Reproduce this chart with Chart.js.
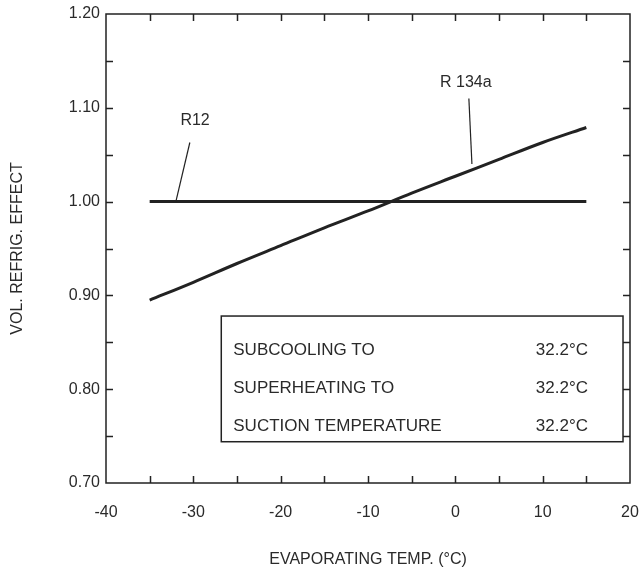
<!DOCTYPE html>
<html>
<head>
<meta charset="utf-8">
<script src="https://cdn.jsdelivr.net/npm/chart.js@4"></script>
<style>
  html, body { margin: 0; padding: 0; background: #fff; }
  #wrap { width: 641px; height: 571px; }
</style>
</head>
<body>
<div id="wrap"><canvas id="chart" width="641" height="571"></canvas></div>
<script>
// evaporating temperature (°C) and relative volumetric refrigerating effect
const evapTemps = [-35, -30, -25, -20, -15, -10, -5, 0, 5, 10, 15];
const r134aEffect = [0.895, 0.914, 0.934, 0.953, 0.972, 0.990, 1.009, 1.027, 1.045, 1.063, 1.079];
const r12Effect = [1.00, 1.00, 1.00, 1.00, 1.00, 1.00, 1.00, 1.00, 1.00, 1.00, 1.00];

// axis ticks
const xLabelTicks = [-40, -30, -20, -10, 0, 10, 20];
const xTickMarks = [-35, -30, -25, -20, -15, -10, -5, 0, 5, 10, 15];
const yLabelTicks = [0.70, 0.80, 0.90, 1.00, 1.10, 1.20];
const yTickMarks = [0.75, 0.80, 0.85, 0.90, 0.95, 1.00, 1.05, 1.10, 1.15];

// operating conditions shown in the box
const conditionNames = ["SUBCOOLING TO", "SUPERHEATING TO", "SUCTION TEMPERATURE"];
const conditionValues = ["32.2°C", "32.2°C", "32.2°C"];

// series labels with their leader lines, in data units
const seriesNotes = [
  { text: "R12",    at: [-29.8, 1.086], from: [-30.4, 1.063], to: [-32.0, 1.000] },
  { text: "R 134a", at: [1.2, 1.127],   from: [1.55, 1.110],  to: [1.9, 1.040] }
];
const conditionBox = { x0: -26.8, x1: 19.2, y0: 0.744, y1: 0.878 };

const INK = "#222";
const FONT = '"Liberation Sans", Arial, Helvetica, sans-serif';
Chart.defaults.font.family = FONT;
Chart.defaults.color = "#2a2a2a";

const frameAndNotes = {
  id: "frameAndNotes",
  afterDraw(chart) {
    const { ctx, chartArea: a, scales: { x, y } } = chart;
    const TICK = 7;
    ctx.save();
    ctx.strokeStyle = INK;
    ctx.lineWidth = 1.5;
    ctx.strokeRect(a.left, a.top, a.right - a.left, a.bottom - a.top);

    // tick marks point into the plot on all four sides
    ctx.beginPath();
    xTickMarks.forEach(v => {
      const px = Math.round(x.getPixelForValue(v)) + 0.5;
      ctx.moveTo(px, a.bottom); ctx.lineTo(px, a.bottom - TICK);
      ctx.moveTo(px, a.top);    ctx.lineTo(px, a.top + TICK);
    });
    yTickMarks.forEach(v => {
      const py = Math.round(y.getPixelForValue(v)) + 0.5;
      ctx.moveTo(a.left, py);  ctx.lineTo(a.left + TICK, py);
      ctx.moveTo(a.right, py); ctx.lineTo(a.right - TICK, py);
    });
    ctx.stroke();

    // curve labels
    ctx.lineWidth = 1.2;
    ctx.fillStyle = "#2a2a2a";
    ctx.font = "16px " + FONT;
    ctx.textAlign = "center";
    ctx.textBaseline = "middle";
    seriesNotes.forEach(n => {
      ctx.fillText(n.text, x.getPixelForValue(n.at[0]), y.getPixelForValue(n.at[1]));
      ctx.beginPath();
      ctx.moveTo(x.getPixelForValue(n.from[0]), y.getPixelForValue(n.from[1]));
      ctx.lineTo(x.getPixelForValue(n.to[0]), y.getPixelForValue(n.to[1]));
      ctx.stroke();
    });

    // conditions box
    const bx0 = x.getPixelForValue(conditionBox.x0);
    const bx1 = x.getPixelForValue(conditionBox.x1);
    const by0 = y.getPixelForValue(conditionBox.y1);
    const by1 = y.getPixelForValue(conditionBox.y0);
    ctx.lineWidth = 1.5;
    ctx.strokeRect(bx0, by0, bx1 - bx0, by1 - by0);
    ctx.font = "17px " + FONT;
    conditionNames.forEach((name, i) => {
      const ty = by0 + 34 + i * 38;
      ctx.textAlign = "left";
      ctx.fillText(name, bx0 + 12, ty);
      ctx.textAlign = "right";
      ctx.fillText(conditionValues[i], bx1 - 35, ty);
    });
    ctx.restore();
  }
};

new Chart(document.getElementById("chart"), {
  type: "line",
  data: {
    labels: evapTemps,
    datasets: [
      {
        label: "R12",
        data: evapTemps.map((t, i) => ({ x: t, y: r12Effect[i] })),
        borderColor: INK,
        borderWidth: 3,
        pointRadius: 0,
        fill: false
      },
      {
        label: "R 134a",
        data: evapTemps.map((t, i) => ({ x: t, y: r134aEffect[i] })),
        borderColor: INK,
        borderWidth: 3,
        pointRadius: 0,
        cubicInterpolationMode: "monotone",
        fill: false
      }
    ]
  },
  options: {
    responsive: false,
    animation: false,
    layout: { padding: { top: 14, right: 11, left: 0, bottom: 0 } },
    plugins: {
      legend: { display: false },
      tooltip: { enabled: false }
    },
    scales: {
      x: {
        type: "linear",
        min: -40,
        max: 20,
        afterBuildTicks: s => { s.ticks = xLabelTicks.map(v => ({ value: v })); },
        afterFit: s => { s.height = 88; s.paddingLeft = 0; s.paddingRight = 0; },
        grid: { display: false, drawTicks: false },
        border: { display: false },
        ticks: {
          padding: 20,
          font: { size: 16 },
          callback: v => String(v)
        },
        title: {
          display: true,
          text: "EVAPORATING TEMP. (°C)",
          font: { size: 16 },
          padding: { top: 0, bottom: 2 }
        }
      },
      y: {
        type: "linear",
        min: 0.70,
        max: 1.20,
        afterBuildTicks: s => { s.ticks = yLabelTicks.map(v => ({ value: v })); },
        afterFit: s => { s.width = 106; s.paddingTop = 0; s.paddingBottom = 0; },
        grid: { display: false, drawTicks: false },
        border: { display: false },
        ticks: {
          padding: 6,
          font: { size: 16 },
          callback: v => Number(v).toFixed(2)
        },
        title: {
          display: true,
          text: "VOL. REFRIG. EFFECT",
          font: { size: 16 },
          padding: { top: 8, bottom: 0 }
        }
      }
    }
  },
  plugins: [frameAndNotes]
});
</script>
</body>
</html>
